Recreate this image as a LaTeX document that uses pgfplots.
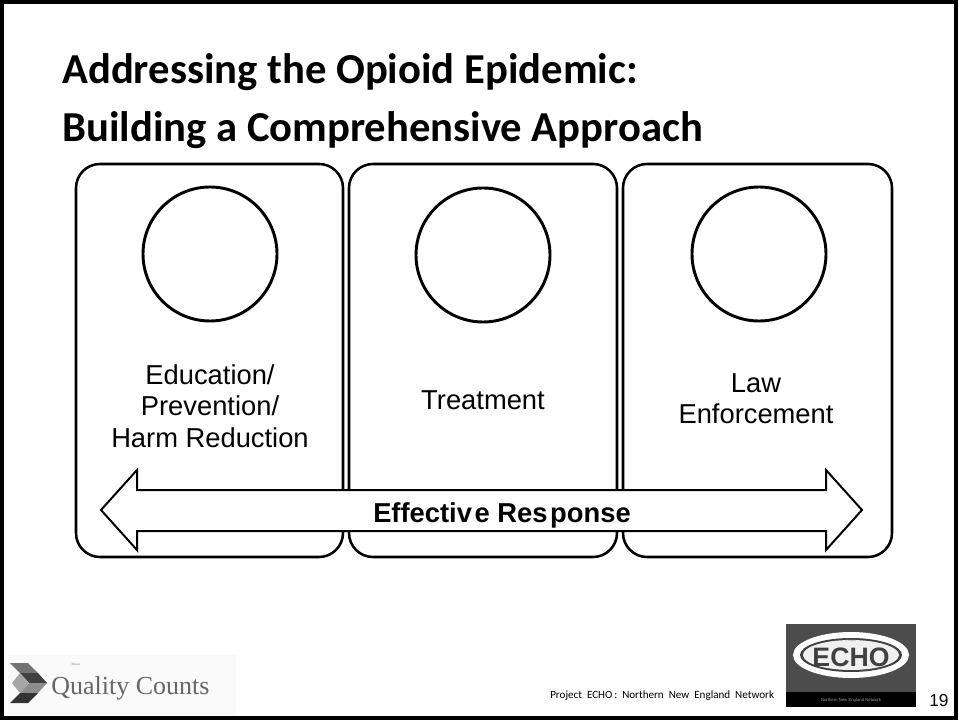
\documentclass[border=0pt]{standalone}
\usepackage{pgfplots}
\pgfplotsset{compat=1.18}
\usepackage{fontspec}
\setmainfont{Liberation Sans}
\newfontfamily\carlito{Carlito}
\newfontfamily\lserif{Liberation Serif}
\begin{document}
\begin{tikzpicture}
\begin{axis}[
  width=720pt, height=542.25pt, scale only axis,
  xmin=0, xmax=960, ymin=0, ymax=723, y dir=reverse,
  hide axis, clip=false,
]
% background and frame
\fill[white] (0,0) rectangle (960,723);
\draw[line width=3pt] (2,2) rectangle (956,718);
% title
\node[anchor=base west, font=\carlito\bfseries\fontsize{32}{38}\selectfont, inner sep=0pt] at (62,84) {Addressing the Opioid Epidemic:};
\node[anchor=base west, font=\carlito\bfseries\fontsize{32}{38}\selectfont, inner sep=0pt] at (62,142) {Building a Comprehensive Approach};
% panels
\draw[line width=1.9pt, rounded corners=18pt] (76,164) rectangle (343,557);
\draw[line width=1.9pt, rounded corners=18pt] (349,164) rectangle (617,557);
\draw[line width=1.9pt, rounded corners=18pt] (623,164) rectangle (892,557);
% circles
\draw[line width=2.2pt] (210,254) circle[radius=67];
\draw[line width=2.2pt] (483,255) circle[radius=67];
\draw[line width=2.2pt] (759,254) circle[radius=67];
% panel texts
\node[align=center, font=\fontsize{20.5}{23.5}\selectfont] at (210,406) {Education/\\Prevention/\\Harm Reduction};
\node[font=\fontsize{20.5}{23.5}\selectfont] at (483,400) {Treatment};
\node[align=center, font=\fontsize{20.5}{23.5}\selectfont] at (756,399) {Law\\Enforcement};
% arrow
\addplot[line width=1.5pt, fill=white] coordinates {
 (101,510) (137,470) (137,490) (826,490) (826,470) (862,510)
 (826,550) (826,531) (137,531) (137,550) (101,510)} -- cycle;
\node[font=\bfseries\fontsize{20.5}{23.5}\selectfont, anchor=base] at (502,522) {Effectiv\kern2pt e Res\kern2pt ponse};
% footer
\node[anchor=base west, font=\carlito\fontsize{8.3}{10}\selectfont, inner sep=0pt] at (550,698) {Project\ \ ECHO\,:\ \ Northern\ \ New\ \ England\ \ Network};
\node[anchor=base west, font=\fontsize{13}{15}\selectfont, inner sep=0pt] at (929,706) {19};
% ECHO logo
\fill[black!70] (786,624) rectangle (916,692);
\fill[black] (786,692) rectangle (916,707);
\fill[white] (851,655) ellipse[x radius=58, y radius=23];
\fill[black!75] (851,655) ellipse[x radius=51, y radius=17];
\fill[white!94!black] (851,655) ellipse[x radius=48, y radius=15];
\node[font=\bfseries\fontsize{20}{21}\selectfont, text=black!75] at (851,657) {ECHO};
\node[font=\fontsize{2.5}{3}\selectfont, text=black!50] at (851,641) {Project};
\node[font=\fontsize{3.2}{4}\selectfont, text=black!40] at (851,700) {Northern New England Network};
% Quality Counts logo
\fill[black!2] (8,655) rectangle (236,715);
\fill[black!55] (10,663) -- (28,663) -- (38,673) -- (20,673) -- cycle;
\fill[black!75] (20,673) -- (38,673) -- (47,683) -- (29,683) -- cycle;
\fill[black!45] (29,683) -- (47,683) -- (38,693) -- (20,693) -- cycle;
\fill[black!80] (20,693) -- (38,693) -- (28,703) -- (10,703) -- cycle;
\fill[black!35] (12,683) -- (20,673) -- (29,683) -- (20,693) -- cycle;
\node[font=\lserif\fontsize{2.5}{3}\selectfont, text=black!50, inner sep=0pt] at (76,664) {Maine};
\node[anchor=west, font=\lserif\fontsize{19.5}{22}\selectfont, text=black!60, inner sep=0pt] at (51,688) {Quality Counts};
\end{axis}
\end{tikzpicture}
\end{document}
